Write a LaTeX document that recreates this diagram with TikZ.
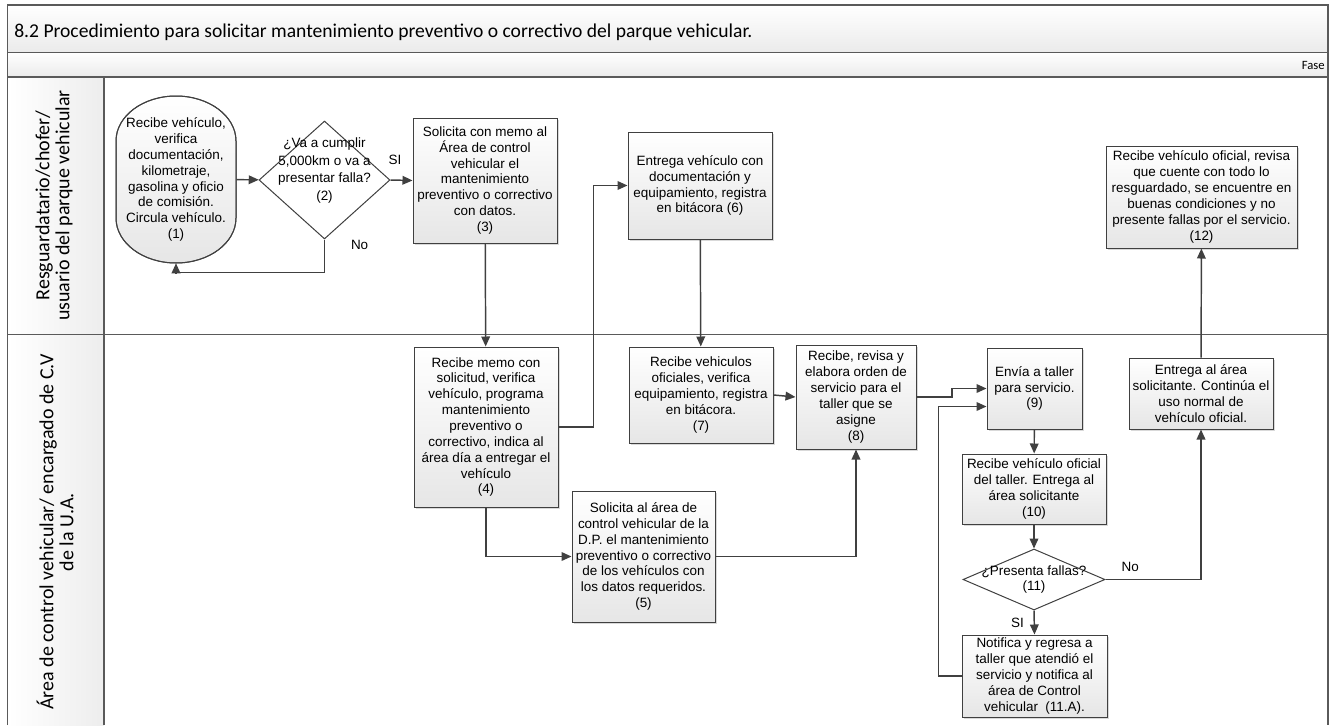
\documentclass[tikz,border=0pt]{standalone}
\usepackage{fontspec}
\setmainfont{Liberation Sans}
\newfontfamily\carlito{Carlito}
\usetikzlibrary{shapes.geometric, arrows.meta, shadows, calc}

\definecolor{linegray}{RGB}{64,64,64}
\definecolor{framegray}{RGB}{90,90,90}
\definecolor{boxgray}{RGB}{230,230,230}

\tikzset{
  boxtxt/.style={font=\fontsize{10.1}{11.9}\selectfont, align=center},
  proc/.style={boxtxt, draw=linegray, line width=0.75pt, top color=white,
    bottom color=boxgray, inner sep=2pt,
    drop shadow={shadow xshift=1.3pt, shadow yshift=-1.3pt, fill=gray!50, opacity=0.6}},
  term/.style={boxtxt, inner sep=2pt},
  termline/.style={draw=linegray, line width=0.75pt, top color=white, bottom color=boxgray},
  decis/.style={diamond, draw=linegray, line width=0.75pt, fill=white, inner sep=0pt},
  dtxt/.style={font=\fontsize{10.1}{13.2}\selectfont, align=center},
  flow/.style={draw=linegray, line width=1.1pt, -{Triangle[length=7.5pt,width=6.5pt]}},
  frame/.style={draw=framegray, line width=1.1pt},
  lbl/.style={font=\fontsize{10.1}{11.9}\selectfont},
  lane/.style={font=\carlito\fontsize{15}{15}\selectfont, align=center, rotate=90}
}

\begin{document}
\begin{tikzpicture}[x=0.75pt,y=-0.75pt]
  \useasboundingbox (0,0) rectangle (1332,725);

  % marco y carriles
  \shade[top color=white, bottom color=gray!16] (7.5,5) rectangle (1328,52.5);
  \shade[top color=white, bottom color=gray!16] (7.5,52.5) rectangle (1328,77);
  \shade[left color=white, right color=gray!14] (7.5,77) rectangle (104,725);
  \draw[frame] (7.5,725) -- (7.5,5) -- (1328,5) -- (1328,725);
  \draw[frame] (7.5,52.5) -- (1328,52.5);
  \draw[frame] (7.5,77) -- (1328,77);
  \draw[frame] (7.5,334.5) -- (1328,334.5);
  \draw[frame] (104,77) -- (104,725);

  \node[anchor=base west, inner sep=0pt, font=\carlito\fontsize{14.7}{18}\selectfont] (titulo) at (14,37)
    {8.2 Procedimiento para solicitar mantenimiento preventivo o correctivo del parque vehicular.};
  \node[anchor=east, inner sep=0pt, font=\carlito\fontsize{9.5}{11}\selectfont] (fase) at (1325,65) {Fase};

  \node[lane] (carril1) at (54,205.5) {Resguardatario/chofer/\\usuario del parque vehicular};
  \node[lane] (carril2) at (55,532) {Área de control vehicular/ encargado de C.V\\de la U.A.};

  % carril 1
  \shade[termline] (116,141) .. controls (116,116) and (143,96) .. (176,96)
    .. controls (209,96) and (236,116) .. (236,141) -- (236,218)
    .. controls (236,243) and (209,263) .. (176,263)
    .. controls (143,263) and (116,243) .. (116,218) -- cycle;
  \draw[linegray, line width=0.75pt] (116,141) .. controls (116,116) and (143,96) .. (176,96)
    .. controls (209,96) and (236,116) .. (236,141) -- (236,218)
    .. controls (236,243) and (209,263) .. (176,263)
    .. controls (143,263) and (116,243) .. (116,218) -- cycle;
  \node[term, minimum width=90pt, minimum height=125.25pt] (t1) at (176,179.5)
    {Recibe vehículo,\\verifica\\documentación,\\kilometraje,\\gasolina y oficio\\de comisión.\\Circula vehículo.\\(1)};
  \node[decis, minimum width=98.25pt, minimum height=88.5pt,
    label={[dtxt, yshift=7pt]center:{¿Va a cumplir\\5,000km o va a\\presentar falla?\\(2)}}] (d2) at (324.5,180) {};
  \node[proc, minimum width=108pt, minimum height=93.75pt] (n3) at (485,180.5)
    {Solicita con memo al\\Área de control\\vehicular el\\mantenimiento\\preventivo o correctivo\\con datos.\\(3)};
  \node[proc, minimum width=108pt, minimum height=80.25pt] (n6) at (700,185.5)
    {Entrega vehículo con\\documentación y\\equipamiento, registra\\en bitácora (6)};
  \node[proc, minimum width=143.25pt, minimum height=76.5pt] (n12) at (1201.5,197)
    {Recibe vehículo oficial, revisa\\que cuente con todo lo\\resguardado, se encuentre en\\buenas condiciones y no\\presente fallas por el servicio.\\(12)};

  % carril 2
  \node[proc, minimum width=108pt, minimum height=120pt] (n4) at (486,427)
    {Recibe memo con\\solicitud, verifica\\vehículo, programa\\mantenimiento\\preventivo o\\correctivo, indica al\\área día a entregar el\\vehículo\\(4)};
  \node[proc, minimum width=108pt, minimum height=72pt] (n7) at (701,395)
    {Recibe vehiculos\\oficiales, verifica\\equipamiento, registra\\en bitácora.\\(7)};
  \node[proc, minimum width=90pt, minimum height=78pt] (n8) at (856,397)
    {Recibe, revisa y\\elabora orden de\\servicio para el\\taller que se\\asigne\\(8)};
  \node[proc, minimum width=107.25pt, minimum height=98.25pt] (n5) at (643.5,556.5)
    {Solicita al área de\\control vehicular de la\\D.P. el mantenimiento\\preventivo o correctivo\\de los vehículos con\\los datos requeridos.\\(5)};
  \node[proc, minimum width=71.25pt, minimum height=60.75pt] (n9) at (1034.5,388.5)
    {Envía a taller\\para servicio.\\(9)};
  \node[proc, minimum width=108pt, minimum height=53.25pt] (n13) at (1201,393.5)
    {Entrega al área\\solicitante. Continúa el\\uso normal de\\vehículo oficial.};
  \node[proc, minimum width=108pt, minimum height=52.5pt] (n10) at (1034,489)
    {Recibe vehículo oficial\\del taller. Entrega al\\área solicitante\\(10)};
  \node[decis, minimum width=106.5pt, minimum height=45.75pt,
    label={[boxtxt]center:{¿Presenta fallas?\\(11)}}] (d11) at (1034,579.5) {};
  \node[proc, minimum width=108.75pt, minimum height=61.5pt] (n11a) at (1034.5,676)
    {Notifica y regresa a\\taller que atendió el\\servicio y notifica al\\área de Control\\vehicular~~(11.A).};

  % flechas
  \draw[flow] (t1) -- (d2);
  \draw[flow] (d2.east) -- node[lbl, pos=0.2, above=8pt] {SI} (n3.west);
  \draw[flow] (d2.south) -- node[lbl, pos=0.15, right=16pt] {No} ++(0,33) -| (t1.south);
  \draw[flow] (n3) -- (n4);
  \draw[flow] (n4.east) -- ++(35,0) |- (n6.west);
  \draw[flow] (n6) -- (n7);
  \draw[flow] (n4.south) |- (n5.west);
  \draw[flow] (n5.east) -| (n8.south);
  \draw[flow] (n7.east) -- (n8.west);
  \draw[flow] (n8.east) -- ++(35.5,0) |- (n9.west);
  \draw[flow] (n9) -- (n10);
  \draw[flow] (n10) -- (d11);
  \draw[flow] (d11.south) -- node[lbl, midway, left=4pt] {SI} (n11a.north);
  \draw[flow] (d11.east) -| node[lbl, pos=0.13, above=2pt] {No} (n13.south);
  \draw[flow] (n11a.west) -- ++(-23,0) |- ($(n9.west)+(0,18)$);
  \draw[flow] (n13) -- (n12);
\end{tikzpicture}
\end{document}
